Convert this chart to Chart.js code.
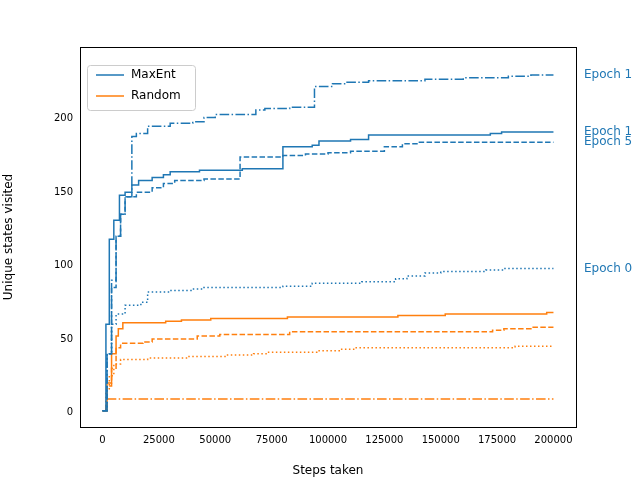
<!doctype html>
<html lang="en">
<head>
<meta charset="UTF-8"/>
<title>Unique states</title>
<script src="https://cdn.jsdelivr.net/npm/chart.js@4/dist/chart.umd.min.js"></script>
<style>
 * { margin: 0; padding: 0; }
 body { background: #fff; }
</style>
</head>
<body>
<canvas id="chart" width="640" height="480"></canvas>
<script>
// [steps, unique states] step points
const maxentDashDot = [[0,1],[2000,40],[4000,90],[6000,120],[8000,135],[10000,147],[13000,188],[15000,190],[20000,195],[30000,197],[40000,198],[45000,201],[50000,203],[68000,206],[72000,207],[83000,208],[94000,222],[102000,224],[108000,225],[118000,226],[143000,227],[160000,228],[180000,229],[190000,230],[200000,230]];
const maxentSolid = [[0,1],[1500,60],[3000,118],[5000,131],[7500,148],[10000,150],[13000,155],[16000,158],[22000,160],[27000,162],[30000,164],[43000,165],[62000,166],[80000,181],[93000,182],[96000,185],[110000,186],[118000,189],[172000,190],[177000,191],[200000,191]];
const maxentDashed = [[0,1],[2000,40],[4000,85],[6000,120],[8000,135],[10000,147],[15000,150],[22000,153],[27000,156],[32000,158],[45000,159],[61000,174],[80000,175],[90000,176],[100000,177],[110000,178],[125000,181],[133000,183],[140000,184],[200000,184]];
const maxentDotted = [[0,1],[2000,40],[4000,60],[6000,67],[10000,73],[17000,75],[20000,82],[30000,83],[40000,84],[45000,85],[80000,86],[93000,88],[115000,89],[130000,91],[135000,93],[143000,95],[150000,96],[170000,97],[178000,98],[200000,98]];
const randomSolid = [[0,1],[2000,20],[4000,40],[6000,52],[7000,57],[9000,61],[28000,62],[35000,63],[48000,64],[82000,65],[131000,66],[152000,67],[197000,68],[200000,68]];
const randomDashed = [[0,1],[2000,18],[4000,30],[6000,44],[8000,47],[18000,48],[22000,50],[42000,52],[52000,53],[83000,55],[173000,56],[178000,57],[190000,58],[200000,58]];
const randomDotted = [[0,1],[1500,15],[3000,25],[5000,33],[8000,36],[20000,37],[38000,38],[55000,39],[67000,40],[73000,41],[95000,42],[105000,43],[112000,44],[183000,45],[200000,45]];
const randomDashDot = [[0,1],[1500,9],[200000,9]];

const xTicks = [0, 25000, 50000, 75000, 100000, 125000, 150000, 175000, 200000];
const yTicks = [0, 50, 100, 150, 200];
const epochLabels = ['Epoch 1', 'Epoch 1', 'Epoch 5', 'Epoch 0'];
const epochLabelValues = [230, 191, 184, 98];

const BLUE = '#1f77b4', ORANGE = '#ff7f0e';
const DASH = [5.5, 2.4], DOT = [1.5, 2.5], DASHDOT = [9.6, 2.4, 1.5, 2.4];

function series(pts, color, dash) {
    return {
        data: pts.map(p => ({x: p[0], y: p[1]})),
        borderColor: color, borderDash: dash, borderWidth: 1.5,
        stepped: true, pointRadius: 0, fill: false
    };
}

const extras = {
    id: 'extras',
    afterDraw(chart) {
        const ctx = chart.ctx, ys = chart.scales.y, a = chart.chartArea;
        ctx.save();
        ctx.strokeStyle = '#000'; ctx.lineWidth = 1;
        ctx.strokeRect(Math.round(a.left) + 0.5, Math.round(a.top) + 0.5, Math.round(a.right - a.left), Math.round(a.bottom - a.top));
        ctx.font = '12px "DejaVu Sans"';
        ctx.textBaseline = 'middle';
        ctx.fillStyle = BLUE;
        epochLabels.forEach((t, i) => ctx.fillText(t, 584, ys.getPixelForValue(epochLabelValues[i])));
        // legend
        ctx.fillStyle = 'rgba(255,255,255,0.8)';
        ctx.strokeStyle = '#cccccc';
        ctx.beginPath();
        ctx.roundRect(87.5, 65.5, 108, 45, 3);
        ctx.fill(); ctx.stroke();
        [['MaxEnt', BLUE, 75], ['Random', ORANGE, 96]].forEach(([t, c, y]) => {
            ctx.strokeStyle = c; ctx.lineWidth = 1.5;
            ctx.beginPath(); ctx.moveTo(96, y); ctx.lineTo(124, y); ctx.stroke();
            ctx.fillStyle = '#000'; ctx.fillText(t, 131, y);
        });
        ctx.restore();
    }
};

const tickFont = {family: 'DejaVu Sans', size: 10};
new Chart(document.getElementById('chart'), {
    type: 'line',
    data: {datasets: [
        series(maxentDashDot, BLUE, DASHDOT),
        series(maxentSolid, BLUE, []),
        series(maxentDashed, BLUE, DASH),
        series(maxentDotted, BLUE, DOT),
        series(randomSolid, ORANGE, []),
        series(randomDashed, ORANGE, DASH),
        series(randomDotted, ORANGE, DOT),
        series(randomDashDot, ORANGE, DASHDOT)
    ]},
    options: {
        responsive: false, animation: false, devicePixelRatio: 1,
        layout: {padding: {top: 47, right: 64, left: 0, bottom: 0}},
        plugins: {legend: {display: false}, tooltip: {enabled: false}},
        scales: {
            x: {
                type: 'linear', min: -10000, max: 210000,
                afterBuildTicks: s => { s.ticks = xTicks.map(v => ({value: v})); },
                afterFit: s => { s.height = 53; },
                grid: {display: false, drawTicks: true, tickLength: 4},
                border: {color: '#000'},
                ticks: {color: '#000', font: tickFont, maxRotation: 0, autoSkip: false, callback: v => String(v)},
                title: {display: true, text: 'Steps taken', color: '#000', font: {family: 'DejaVu Sans', size: 12}, padding: 2}
            },
            y: {
                min: -10, max: 249,
                afterBuildTicks: s => { s.ticks = yTicks.map(v => ({value: v})); },
                afterFit: s => { s.width = 80; },
                grid: {display: false, drawTicks: true, tickLength: 4},
                border: {color: '#000'},
                ticks: {color: '#000', font: tickFont, autoSkip: false},
                title: {display: true, text: 'Unique states visited', color: '#000', font: {family: 'DejaVu Sans', size: 12}, padding: 2}
            }
        }
    },
    plugins: [extras]
});
</script>
</body>
</html>
